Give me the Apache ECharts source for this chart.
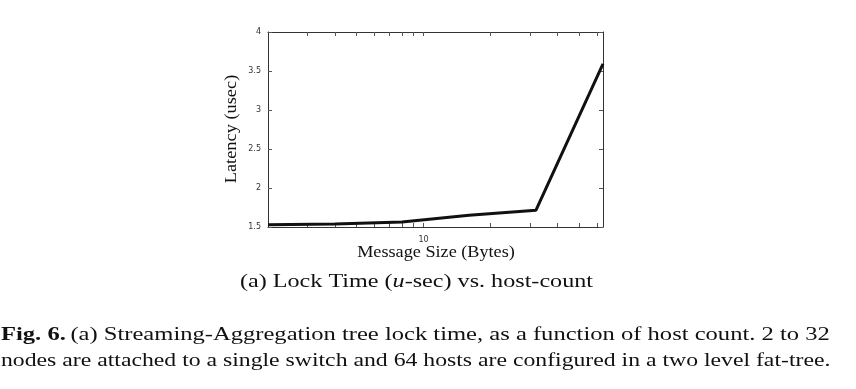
<!DOCTYPE html>
<html>
<head>
<meta charset="utf-8">
<script src="https://cdn.jsdelivr.net/npm/echarts@6/dist/echarts.min.js"></script>
<style>html,body{margin:0;padding:0;background:#fff;}#c{width:856px;height:389px;}</style>
</head>
<body>
<div id="c"></div>
<script>
var hostCounts = [2, 4, 8, 16, 32, 64];
var latency = [1.53, 1.54, 1.565, 1.65, 1.715, 3.59];
var xTickValues = [3, 4, 5, 6, 7, 8, 9, 10, 20, 30, 40, 50, 60];
var xLabelValues = [10];
var yTickLabels = ['1.5', '2', '2.5', '3', '3.5', '4'];

var chart = echarts.init(document.getElementById('c'), null, {renderer: 'canvas'});
var axisColor = '#333';
var tickFont = {fontFamily: 'DejaVu Sans', fontSize: 8, color: '#333'};
function xAx(pos, showLabel) {
  return {
    type: 'log', logBase: 10, min: 2, max: 64, position: pos,
    axisLine: {show: true, lineStyle: {color: axisColor, width: 1}},
    axisTick: {show: true, inside: true, length: 4, customValues: xTickValues, lineStyle: {color: '#555'}},
    axisLabel: Object.assign({show: showLabel, customValues: xLabelValues, margin: 9}, tickFont),
    splitLine: {show: false}, minorTick: {show: false}
  };
}
function yAx(pos, showLabel) {
  return {
    type: 'value', min: 1.5, max: 4, interval: 0.5, position: pos,
    axisLine: {show: true, lineStyle: {color: axisColor, width: 1}},
    axisTick: {show: true, inside: true, length: 4, lineStyle: {color: '#555'}},
    axisLabel: Object.assign({show: showLabel, margin: 7, formatter: function (v) {
      var i = Math.round((v - 1.5) / 0.5); return yTickLabels[i] !== undefined ? yTickLabels[i] : '';
    }}, tickFont),
    splitLine: {show: false}
  };
}
var serif = 'Liberation Serif';
chart.setOption({
  animation: false,
  grid: {left: 268, right: 253, top: 32, bottom: 162},
  xAxis: [xAx('bottom', true), xAx('top', false)],
  yAxis: [yAx('left', true), yAx('right', false)],
  series: [{
    type: 'line', xAxisIndex: 0, yAxisIndex: 0,
    data: hostCounts.map(function (h, i) { return [h, latency[i]]; }),
    symbol: 'none', lineStyle: {color: '#111', width: 3}
  }],
  graphic: [
    {type: 'text', x: 232, y: 129, rotation: Math.PI / 2, scaleX: 1.08,
     style: {text: 'Latency (usec)', x: 0, y: 0, font: '17px "' + serif + '"', fill: '#111', textAlign: 'center', textVerticalAlign: 'middle'}},
    {type: 'text', x: 436, y: 253, scaleX: 1.07,
     style: {text: 'Message Size (Bytes)', x: 0, y: 0, font: '17px "' + serif + '"', fill: '#111', textAlign: 'center', textVerticalAlign: 'middle'}},
    {type: 'text', x: 416.5, y: 282, scaleX: 1.341,
     style: {x: 0, y: 0, textAlign: 'center', textVerticalAlign: 'middle',
       rich: {n: {fontFamily: serif, fontSize: 18, fill: '#111'}, i: {fontFamily: serif, fontStyle: 'italic', fontSize: 18, fill: '#111'}},
       text: '{n|(a) Lock Time (}{i|u}{n|-sec) vs. host-count}'}},
    {type: 'text', x: 1, y: 335, scaleX: 1.365,
     style: {x: 0, y: 0, textVerticalAlign: 'middle',
       rich: {b: {fontFamily: serif, fontWeight: 'bold', fontSize: 18, fill: '#111'}, n: {fontFamily: serif, fontSize: 18, fill: '#111'}},
       text: '{b|Fig. 6.} {n|(a) Streaming-Aggregation tree lock time, as a function of host count. 2 to 32}'}},
    {type: 'text', x: 1, y: 361, scaleX: 1.318,
     style: {x: 0, y: 0, textVerticalAlign: 'middle', font: '18px "' + serif + '"', fill: '#111',
       text: 'nodes are attached to a single switch and 64 hosts are configured in a two level fat-tree.'}}
  ]
});
</script>
</body>
</html>
